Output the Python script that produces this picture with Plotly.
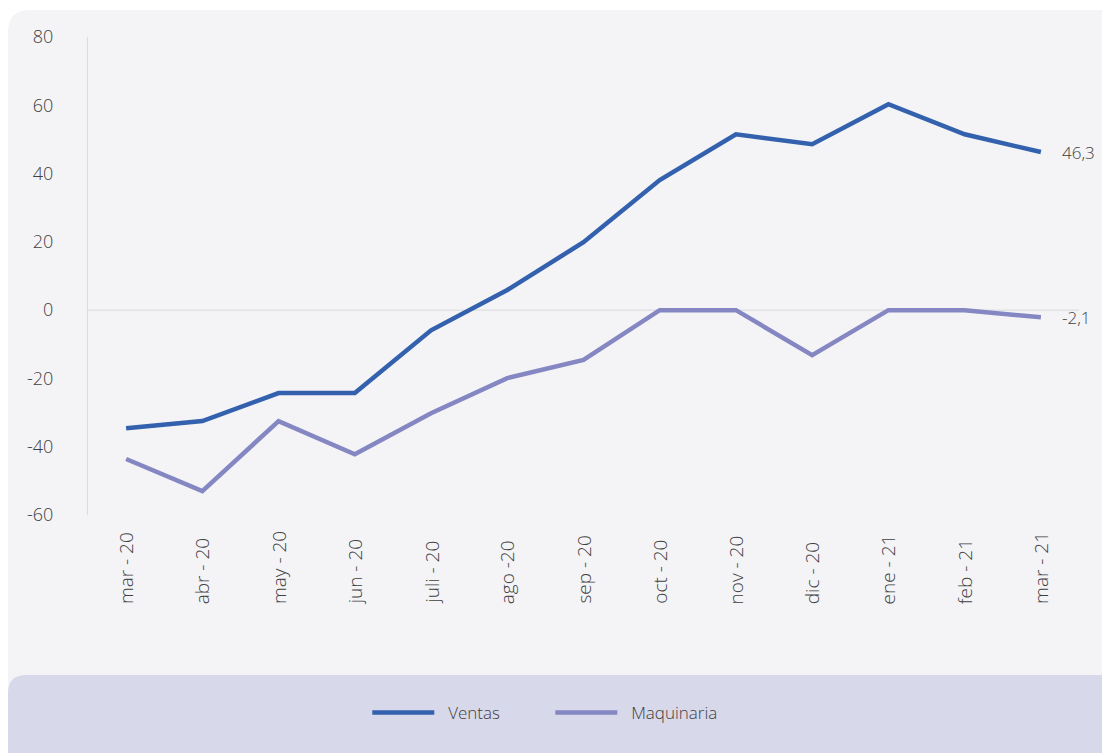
import plotly.graph_objects as go

categories = ["mar - 20", "abr - 20", "may - 20", "jun - 20", "juli - 20", "ago -20",
              "sep - 20", "oct - 20", "nov - 20", "dic - 20", "ene - 21", "feb - 21", "mar - 21"]
ventas = [-34.6, -32.5, -24.3, -24.3, -5.9, 5.9, 19.9, 38.1, 51.5, 48.6, 60.3, 51.5, 46.3]
maquinaria = [-43.6, -53.0, -32.5, -42.2, -30.2, -19.9, -14.6, 0.0, 0.0, -13.2, 0.0, 0.0, -2.1]
y_ticks = [-60, -40, -20, 0, 20, 40, 60, 80]
y_tick_text = ["-60", "-40", "-20", "0", "20", "40", "60", "80"]

W, H = 1102, 753
L, R, T, B = 88, 1079, 37, 515
FONT = "Open Sans"
TXT = "#404040"

def px(x):
    return (x - L) / (R - L)

def py(y):
    return (B - y) / (B - T)

def rounded_path(x0, y0, x1, y1, r, round_bottom=True):
    X0, X1 = px(x0), px(x1)
    rx = r / (R - L)
    ry = r / (B - T)
    p = f"M {X0},{py(y0) - ry} "
    p += f"Q {X0},{py(y0)} {X0 + rx},{py(y0)} "
    p += f"L {X1},{py(y0)} L {X1},{py(y1)} "
    if round_bottom:
        p += f"L {X0 + rx},{py(y1)} Q {X0},{py(y1)} {X0},{py(y1) + ry} Z"
    else:
        p += f"L {X0},{py(y1)} Z"
    return p

fig = go.Figure()
fig.add_trace(go.Scatter(x=categories, y=ventas, name="\u00a0\u00a0Ventas", mode="lines",
                         line=dict(color="#3461ad", width=4.5)))
fig.add_trace(go.Scatter(x=categories, y=maquinaria, name="\u00a0\u00a0Maquinaria", mode="lines",
                         line=dict(color="#8587c2", width=4.5)))

shapes = [
    dict(type="path", xref="paper", yref="paper", layer="below",
         path=rounded_path(8, 10, 1110, 760, 22),
         fillcolor="#f4f4f7", line=dict(width=0)),
    dict(type="path", xref="paper", yref="paper", layer="below",
         path=rounded_path(8, 675, 1110, 760, 18, round_bottom=False),
         fillcolor="#d8d8eb", line=dict(width=0)),
    dict(type="line", xref="paper", yref="y", x0=0, x1=1, y0=0, y1=0, layer="below",
         line=dict(color="#d9d9dd", width=1)),
]

annotations = []
for series in (ventas, maquinaria):
    v = series[-1]
    annotations.append(dict(x=categories[-1], y=v, xref="x", yref="y",
                            text=f"{v:.1f}".replace(".", ","), showarrow=False,
                            xanchor="left", xshift=19,
                            font=dict(family=FONT, size=17, color=TXT, weight=300)))

# category labels, rotated and bottom-aligned like the reference
for c in categories:
    annotations.append(dict(x=c, y=py(606), xref="x", yref="paper", text=c,
                            textangle=-90, showarrow=False, xanchor="center", yanchor="bottom",
                            font=dict(family=FONT, size=19, color=TXT, weight=300)))

fig.update_layout(
    width=W, height=H,
    margin=dict(l=L, r=W - R, t=T, b=H - B),
    paper_bgcolor="white", plot_bgcolor="rgba(0,0,0,0)",
    font=dict(family=FONT, size=17, color=TXT, weight=300),
    showlegend=True,
    legend=dict(orientation="h", x=0.4665, xanchor="center", y=py(713), yanchor="middle",
                bgcolor="rgba(0,0,0,0)", font=dict(family=FONT, size=17, color=TXT, weight=300),
                itemwidth=62, entrywidth=106, entrywidthmode="pixels"),
    xaxis=dict(type="category", range=[-0.5, len(categories) - 0.5],
               showgrid=False, zeroline=False, showline=False,
               showticklabels=False, ticks=""),
    yaxis=dict(range=[-60, 80], tickvals=y_ticks, ticktext=y_tick_text,
               showgrid=False, zeroline=False,
               showline=True, linecolor="#dcdce0", linewidth=1, ticks="",
               ticklabelstandoff=30,
               tickfont=dict(family=FONT, size=18, color=TXT, weight=300)),
    shapes=shapes, annotations=annotations,
)

fig.write_html("out.html", config={"displayModeBar": False},
               post_script="document.body.style.margin='0';document.body.style.overflow='hidden';")
